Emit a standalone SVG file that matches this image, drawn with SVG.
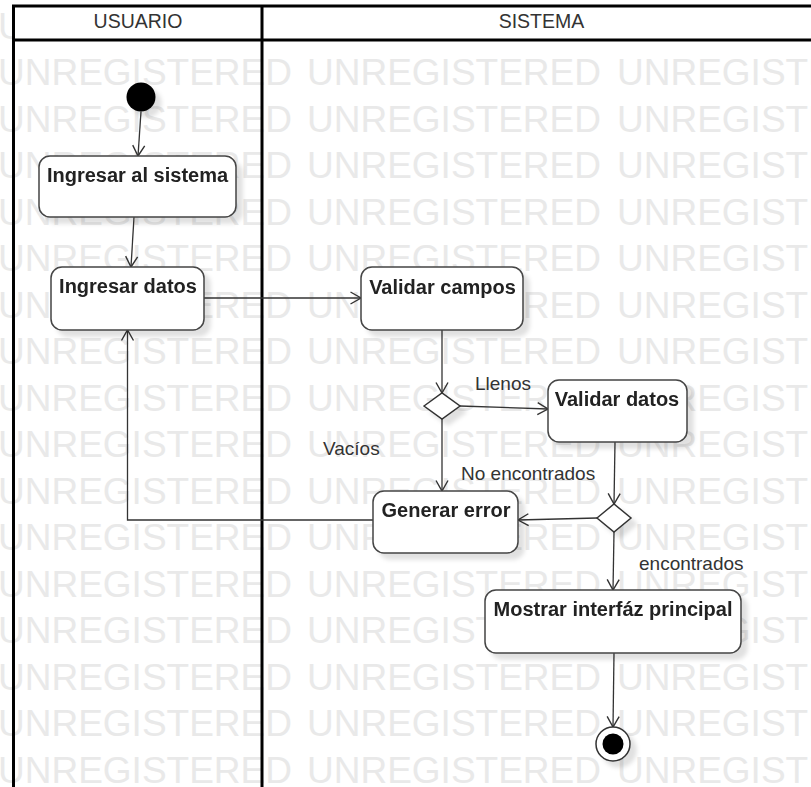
<svg xmlns="http://www.w3.org/2000/svg" width="811" height="787" viewBox="0 0 811 787">
  <style>
    .wm { font-family: "Liberation Sans", Arial, sans-serif; font-size: 37px; fill: #e9e9e9; }
    .lane { fill: none; stroke: #000; stroke-width: 3; }
    .lane-title { font-family: "Liberation Sans", Arial, sans-serif; font-size: 19.5px; fill: #333; text-anchor: middle; }
    .act { fill: #fff; stroke: #444; stroke-width: 1.5; }
    .act-label { font-family: "Liberation Sans", Arial, sans-serif; font-size: 20px; font-weight: bold; fill: #222; text-anchor: middle; }
    .dec { fill: #fff; stroke: #333; stroke-width: 1.5; }
    .flow { fill: none; stroke: #333; stroke-width: 1.3; marker-end: url(#open-arrow); }
    .guard { font-family: "Liberation Sans", Arial, sans-serif; font-size: 19px; fill: #333; }
  </style>
  <defs>
    <marker id="open-arrow" markerUnits="userSpaceOnUse" markerWidth="14" markerHeight="14" viewBox="0 0 14 14" refX="12" refY="7" orient="auto">
      <path d="M1.5,1 L12,7 L1.5,13" fill="none" stroke="#333" stroke-width="1.4"/>
    </marker>
    <filter id="drop" x="-20%" y="-20%" width="150%" height="160%">
      <feGaussianBlur in="SourceAlpha" stdDeviation="2.2"/>
      <feOffset dx="6" dy="6" result="b"/>
      <feFlood flood-color="#000" flood-opacity="0.12"/>
      <feComposite in2="b" operator="in"/>
      <feMerge><feMergeNode/><feMergeNode in="SourceGraphic"/></feMerge>
    </filter>
  </defs>

  <rect width="811" height="787" fill="#fff"/>

  <!-- background stamp rows -->
  <g id="stamp">
    <g class="wm">
      <text x="-2" y="38.5">UNREGISTERED</text><text x="307" y="38.5">UNREGISTERED</text><text x="617" y="38.5">UNREGISTERED</text>
      <text x="-2" y="85">UNREGISTERED</text><text x="307" y="85">UNREGISTERED</text><text x="617" y="85">UNREGISTERED</text>
      <text x="-2" y="131.5">UNREGISTERED</text><text x="307" y="131.5">UNREGISTERED</text><text x="617" y="131.5">UNREGISTERED</text>
      <text x="-2" y="178">UNREGISTERED</text><text x="307" y="178">UNREGISTERED</text><text x="617" y="178">UNREGISTERED</text>
      <text x="-2" y="224.5">UNREGISTERED</text><text x="307" y="224.5">UNREGISTERED</text><text x="617" y="224.5">UNREGISTERED</text>
      <text x="-2" y="271">UNREGISTERED</text><text x="307" y="271">UNREGISTERED</text><text x="617" y="271">UNREGISTERED</text>
      <text x="-2" y="317.5">UNREGISTERED</text><text x="307" y="317.5">UNREGISTERED</text><text x="617" y="317.5">UNREGISTERED</text>
      <text x="-2" y="364">UNREGISTERED</text><text x="307" y="364">UNREGISTERED</text><text x="617" y="364">UNREGISTERED</text>
      <text x="-2" y="410.5">UNREGISTERED</text><text x="307" y="410.5">UNREGISTERED</text><text x="617" y="410.5">UNREGISTERED</text>
      <text x="-2" y="457">UNREGISTERED</text><text x="307" y="457">UNREGISTERED</text><text x="617" y="457">UNREGISTERED</text>
      <text x="-2" y="503.5">UNREGISTERED</text><text x="307" y="503.5">UNREGISTERED</text><text x="617" y="503.5">UNREGISTERED</text>
      <text x="-2" y="550">UNREGISTERED</text><text x="307" y="550">UNREGISTERED</text><text x="617" y="550">UNREGISTERED</text>
      <text x="-2" y="596.5">UNREGISTERED</text><text x="307" y="596.5">UNREGISTERED</text><text x="617" y="596.5">UNREGISTERED</text>
      <text x="-2" y="643">UNREGISTERED</text><text x="307" y="643">UNREGISTERED</text><text x="617" y="643">UNREGISTERED</text>
      <text x="-2" y="689.5">UNREGISTERED</text><text x="307" y="689.5">UNREGISTERED</text><text x="617" y="689.5">UNREGISTERED</text>
      <text x="-2" y="736">UNREGISTERED</text><text x="307" y="736">UNREGISTERED</text><text x="617" y="736">UNREGISTERED</text>
      <text x="-2" y="782.5">UNREGISTERED</text><text x="307" y="782.5">UNREGISTERED</text><text x="617" y="782.5">UNREGISTERED</text>
    </g>
  </g>

  <!-- swimlanes -->
  <g id="swimlanes">
    <rect x="13.5" y="6" width="810" height="34" fill="#fff"/>
    <path class="lane" d="M13.5,6 H830 M13.5,40 H830 M13.5,4.5 V787 M262,4.5 V787"/>
    <text class="lane-title" x="138" y="28">USUARIO</text>
    <text class="lane-title" x="541.5" y="28">SISTEMA</text>
  </g>

  <!-- control flows -->
  <g id="connectors">
    <path class="flow" d="M141,111.5 L138,156"/>
    <path class="flow" d="M134,217 L131,267"/>
    <path class="flow" d="M204,298 L361,298"/>
    <path class="flow" d="M442,330 L442,393"/>
    <path class="flow" d="M460,406 L548,409"/>
    <path class="flow" d="M442,419 L442,491"/>
    <path class="flow" d="M615,442 L614,504"/>
    <path class="flow" d="M597,518 L518,520"/>
    <path class="flow" d="M614,532 L613,590"/>
    <path class="flow" d="M373,520 L127.5,520 L127.5,330"/>
    <path class="flow" d="M614,653 L613,727"/>
    <text class="guard" x="475" y="390">Llenos</text>
    <text class="guard" x="323" y="455">Vacíos</text>
    <text class="guard" x="461" y="480">No encontrados</text>
    <text class="guard" x="639" y="570">encontrados</text>
  </g>

  <!-- nodes -->
  <g id="start" filter="url(#drop)">
    <circle cx="141" cy="97" r="14.5" fill="#000"/>
  </g>
  <g id="ingresar-sistema" filter="url(#drop)">
    <rect class="act" x="39" y="156" width="197" height="61" rx="11"/>
    <text class="act-label" x="137.5" y="182">Ingresar al sistema</text>
  </g>
  <g id="ingresar-datos" filter="url(#drop)">
    <rect class="act" x="51" y="267" width="153" height="63" rx="11"/>
    <text class="act-label" x="128" y="293">Ingresar datos</text>
  </g>
  <g id="validar-campos" filter="url(#drop)">
    <rect class="act" x="361" y="267" width="162" height="63" rx="11"/>
    <text class="act-label" x="442.5" y="294">Validar campos</text>
  </g>
  <g id="decision-campos" filter="url(#drop)">
    <polygon class="dec" points="424,406 442,393 460,406 442,419"/>
  </g>
  <g id="validar-datos" filter="url(#drop)">
    <rect class="act" x="548" y="380" width="139" height="62" rx="11"/>
    <text class="act-label" x="617" y="406">Validar datos</text>
  </g>
  <g id="generar-error" filter="url(#drop)">
    <rect class="act" x="373" y="491" width="145" height="62" rx="11"/>
    <text class="act-label" x="446" y="517">Generar error</text>
  </g>
  <g id="decision-datos" filter="url(#drop)">
    <polygon class="dec" points="597,518 614,504 631,518 614,532"/>
  </g>
  <g id="mostrar-interfaz" filter="url(#drop)">
    <rect class="act" x="485" y="590" width="256" height="63" rx="11"/>
    <text class="act-label" x="613" y="616">Mostrar interfáz principal</text>
  </g>
  <g id="end" filter="url(#drop)">
    <circle cx="613" cy="744" r="17" fill="#fff" stroke="#333" stroke-width="1.5"/>
    <circle cx="613" cy="744" r="10.5" fill="#000"/>
  </g>
</svg>
